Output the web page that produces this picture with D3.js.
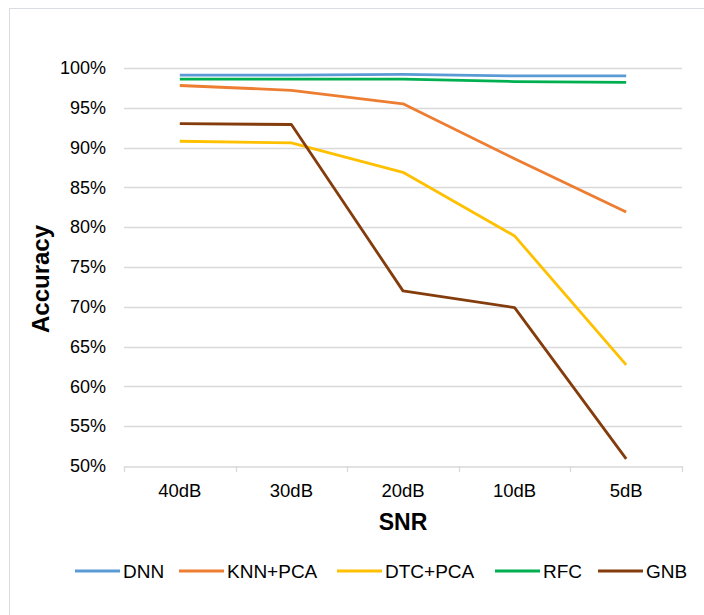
<!DOCTYPE html>
<html>
<head>
<meta charset="utf-8">
<script src="https://cdn.jsdelivr.net/npm/d3@7"></script>
<style>
  body { margin: 0; background: #fff; }
  svg { font-family: "Liberation Sans", Arial, sans-serif; }
</style>
</head>
<body>
<svg id="chart" width="704" height="615"></svg>
<script>
// categories and series
var snrLevels = ["40dB", "30dB", "20dB", "10dB", "5dB"];
var seriesNames = ["DNN", "KNN+PCA", "DTC+PCA", "RFC", "GNB"];
var seriesColors = ["#5B9BD5", "#ED7D31", "#FFC000", "#00B050", "#843C0C"];
var dnnAcc = [99.1, 99.1, 99.2, 99.0, 99.0];
var knnAcc = [97.8, 97.2, 95.5, 88.6, 81.9];
var dtcAcc = [90.8, 90.6, 86.9, 78.9, 62.7];
var rfcAcc = [98.6, 98.6, 98.6, 98.3, 98.2];
var gnbAcc = [93.0, 92.9, 72.0, 69.9, 50.9];
var yTicks = [50, 55, 60, 65, 70, 75, 80, 85, 90, 95, 100];

var allSeries = [dnnAcc, knnAcc, dtcAcc, rfcAcc, gnbAcc];

var svg = d3.select("#chart");

// outer chart frame
svg.append("rect")
	.attr("x", 9.5)
	.attr("y", 8.5)
	.attr("width", 720)
	.attr("height", 640)
	.style("fill", "#fff")
	.style("stroke", "#d9dde3")
	.style("stroke-width", 1);

var plotLeft = 124, plotRight = 682, plotTop = 68, plotBottom = 466;

var x = d3.scaleBand().domain(snrLevels).range([plotLeft, plotRight]);
var y = d3.scaleLinear().domain([50, 100]).range([plotBottom, plotTop]);

// gridlines
svg.append("g")
	.selectAll("line")
	.data(yTicks.slice(1))
	.join("line")
	.attr("x1", plotLeft)
	.attr("x2", plotRight)
	.attr("y1", function (d) { return Math.round(y(d)) + 0.5; })
	.attr("y2", function (d) { return Math.round(y(d)) + 0.5; })
	.style("stroke", "#d9d9d9")
	.style("stroke-width", 1.3);

// y axis labels
var yAxis = svg.append("g")
	.attr("transform", "translate(" + plotLeft + ",0)")
	.call(d3.axisLeft(y).tickValues(yTicks).tickSize(0).tickPadding(18)
		.tickFormat(function (d) { return d + "%"; }));
yAxis.select(".domain").remove();
yAxis.selectAll("text")
	.style("font-size", "18px")
	.style("fill", "#000")
	.style("font-family", "Liberation Sans, Arial, sans-serif");

// x axis
var xAxis = svg.append("g")
	.attr("transform", "translate(0," + (plotBottom + 0.5) + ")")
	.call(d3.axisBottom(x).tickSize(0).tickPadding(17));
xAxis.select(".domain")
	.style("stroke", "#d9d9d9")
	.style("stroke-width", 1.3);
xAxis.selectAll("text")
	.style("font-size", "18.5px")
	.style("fill", "#000")
	.style("font-family", "Liberation Sans, Arial, sans-serif");

// tick marks between categories
var bounds = snrLevels.map(function (d) { return x(d); }).concat([plotRight]);
svg.append("g")
	.selectAll("line")
	.data(bounds)
	.join("line")
	.attr("x1", function (d) { return Math.round(d) + 0.5; })
	.attr("x2", function (d) { return Math.round(d) + 0.5; })
	.attr("y1", plotBottom)
	.attr("y2", plotBottom + 6)
	.style("stroke", "#d9d9d9")
	.style("stroke-width", 1.3);

// series lines
var line = d3.line()
	.x(function (d, i) { return x(snrLevels[i]) + x.bandwidth() / 2; })
	.y(function (d) { return y(d); });

svg.append("g")
	.selectAll("path")
	.data(allSeries)
	.join("path")
	.attr("d", line)
	.style("fill", "none")
	.style("stroke", function (d, i) { return seriesColors[i]; })
	.style("stroke-width", 2.8)
	.style("stroke-linejoin", "round");

// axis titles
svg.append("text")
	.attr("transform", "translate(49,279) rotate(-90)")
	.style("text-anchor", "middle")
	.style("font-size", "24px")
	.style("font-weight", "bold")
	.text("Accuracy");

svg.append("text")
	.attr("x", (plotLeft + plotRight) / 2)
	.attr("y", 530)
	.style("text-anchor", "middle")
	.style("font-size", "23px")
	.style("font-weight", "bold")
	.text("SNR");

// legend
var legendX = [75, 179, 337, 495, 598];
var legend = svg.append("g")
	.selectAll("g")
	.data(seriesNames)
	.join("g")
	.attr("transform", function (d, i) { return "translate(" + legendX[i] + ",571)"; });

legend.append("line")
	.attr("x1", 0)
	.attr("x2", 45)
	.style("stroke", function (d, i) { return seriesColors[i]; })
	.style("stroke-width", 2.8);

legend.append("text")
	.attr("x", 48)
	.attr("dy", "0.35em")
	.style("font-size", "19px")
	.text(function (d) { return d; });
</script>
</body>
</html>
